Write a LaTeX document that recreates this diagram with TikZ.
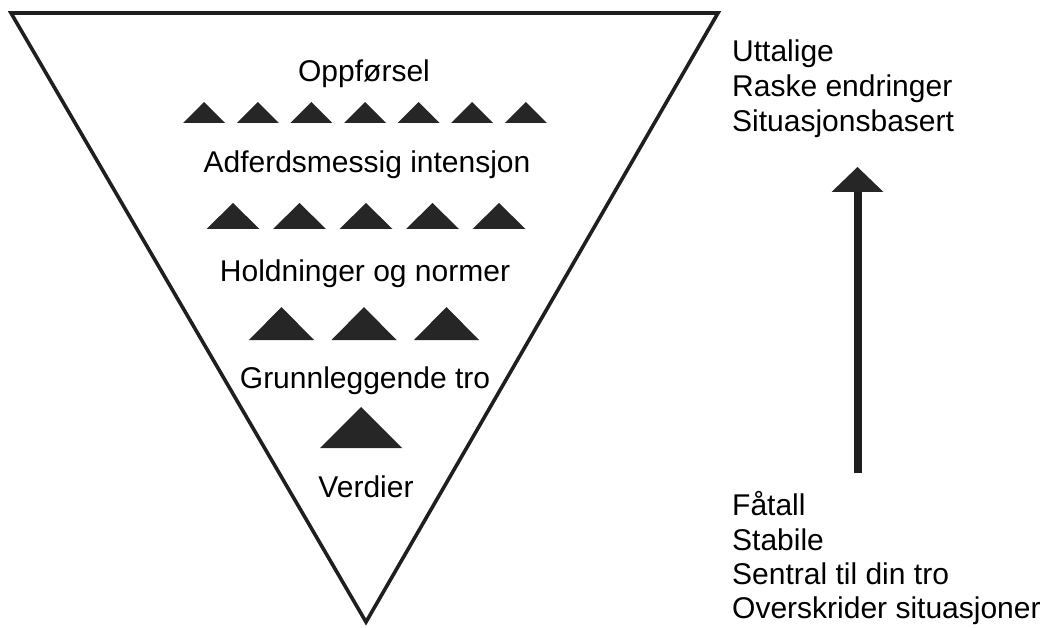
\documentclass[tikz,border=0pt]{standalone}
\usepackage{fontspec}
\setmainfont{Liberation Sans}
\begin{document}
\begin{tikzpicture}[x=1pt,y=-1pt,
  ink/.style={draw=black!88,line width=3.6pt,line join=miter},
  lbl/.style={anchor=base,inner sep=0pt,font=\fontsize{30}{35}\selectfont,text=black},
  rlbl/.style={anchor=base west,inner sep=0pt,font=\fontsize{30}{35}\selectfont,text=black},
  tri/.style={fill=black!85}]
\useasboundingbox (0,0) rectangle (1049,628);
% big inverted triangle
\coordinate (tl) at (11,13);
\coordinate (tr) at (718,13);
\coordinate (ap) at (366,622);
\draw[ink] (tl) -- (tr) -- (ap) -- cycle;
% small triangles: #1 count, #2 width, #3 height, #4 base y, #5 pitch, #6 centre x
\newcommand\trirow[6]{%
  \foreach \i in {1,...,#1}{%
    \pgfmathsetmacro\cx{#6+(\i-(#1+1)/2)*#5}%
    \fill[tri] (\cx-#2/2,#4) -- (\cx+#2/2,#4) -- (\cx,#4-#3) -- cycle;}}
\trirow{7}{42}{21}{123}{53.6}{365}
\trirow{5}{53}{26}{229}{66.5}{366}
\trirow{3}{65}{33}{340}{82.5}{364}
\trirow{1}{82}{41}{448}{0}{361}
% labels in the triangle
\node[lbl] (l1) at (364,82) {Oppførsel};
\node[lbl] (l2) at (367,173) {Adferdsmessig intensjon};
\node[lbl] (l3) at (365,282) {Holdninger og normer};
\node[lbl] (l4) at (365,388) {Grunnleggende tro};
\node[lbl] (l5) at (366,497) {Verdier};
% right labels
\node[rlbl] (u1) at (732,62) {Uttalige};
\node[rlbl] (u2) at (732,97) {Raske endringer};
\node[rlbl] (u3) at (732,132) {Situasjonsbasert};
\node[rlbl] (b1) at (732,515) {Fåtall};
\node[rlbl] (b2) at (732,550) {Stabile};
\node[rlbl] (b3) at (732,584) {Sentral til din tro};
\node[rlbl] (b4) at (732,618) {Overskrider situasjoner};
% arrow
\coordinate (abot) at (857.5,473);
\coordinate (abase) at (857.5,192);
\coordinate (atip) at (857.5,167);
\draw[draw=black!88,line width=8pt] (abot) -- ([yshift=1pt]abase);
\fill[tri] ([xshift=-26pt]abase) -- ([xshift=26pt]abase) -- (atip) -- cycle;
\end{tikzpicture}
\end{document}
